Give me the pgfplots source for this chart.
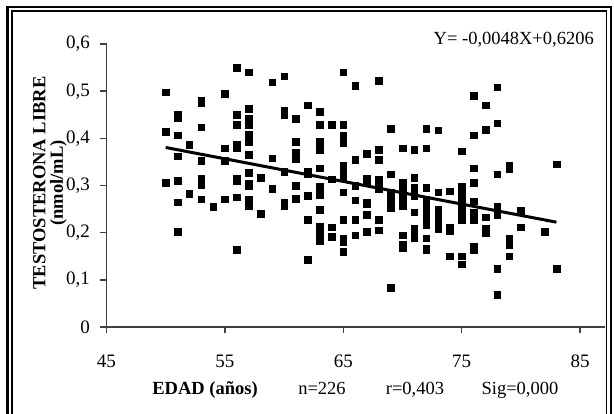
\documentclass[border=0pt]{standalone}
\usepackage{fontspec}
\setmainfont{Liberation Serif}
\usepackage{pgfplots}
\pgfplotsset{compat=1.18}

\begin{document}
\begin{tikzpicture}[x=1pt,y=1pt]
\useasboundingbox (0,0) rectangle (614,414);
\fill[white] (0,0) rectangle (614,414);
% double frame, open at the bottom
\draw[line width=2.5pt] (7.5,-5) -- (7.5,407) -- (611,407) -- (611,-5);
\draw[line width=1.3pt] (12,-5) -- (12,403) -- (606.5,403) -- (606.5,-5);

\begin{axis}[
    at={(106.5pt,87pt)}, anchor=south west,
    width=498.5pt, height=283pt, scale only axis,
    xmin=45, xmax=87.1, ymin=0, ymax=0.6,
    axis x line=bottom, axis y line=left,
    axis line style={-, black!75, line width=1.6pt},
    xtick={45,55,65,75,85},
    ytick={0,0.1,0.2,0.3,0.4,0.5,0.6},
    tick align=outside, major tick length=6pt,
    tick style={black!75, line width=1.4pt},
    /pgf/number format/assume math mode=true,
    ticklabel style={font=\fontsize{19}{20}\selectfont},
    yticklabel style={xshift=-7pt, /pgf/number format/.cd, use comma, fixed, precision=1},
    xticklabel style={anchor=base, yshift=-35pt},
    clip=false,
]
\addplot[only marks, mark=square*, mark size=3.3pt, black] table {
x y
50 0.498
50 0.414
50 0.306
51 0.450
51 0.444
51 0.407
51 0.362
51 0.310
51 0.265
51 0.202
52 0.386
52 0.282
53 0.481
53 0.476
53 0.424
53 0.352
53 0.315
53 0.309
53 0.302
53 0.271
54 0.255
55 0.494
55 0.379
55 0.352
55 0.271
56 0.550
56 0.450
56 0.429
56 0.386
56 0.379
56 0.315
56 0.309
56 0.275
56 0.164
57 0.540
57 0.463
57 0.443
57 0.435
57 0.428
57 0.408
57 0.401
57 0.393
57 0.365
57 0.327
57 0.305
57 0.300
57 0.271
57 0.264
57 0.257
58 0.317
58 0.240
59 0.519
59 0.358
59 0.293
60 0.532
60 0.459
60 0.455
60 0.450
60 0.329
60 0.265
60 0.261
60 0.256
61 0.442
61 0.393
61 0.371
61 0.364
61 0.357
61 0.300
61 0.272
62 0.470
62 0.329
62 0.324
62 0.278
62 0.227
62 0.143
63 0.457
63 0.429
63 0.393
63 0.376
63 0.337
63 0.298
63 0.291
63 0.281
63 0.249
63 0.214
63 0.205
63 0.197
63 0.188
63 0.183
64 0.429
64 0.313
64 0.212
64 0.191
65 0.540
65 0.429
65 0.405
65 0.398
65 0.391
65 0.342
65 0.335
65 0.326
65 0.319
65 0.286
65 0.227
65 0.187
65 0.180
65 0.160
66 0.512
66 0.355
66 0.300
66 0.269
66 0.227
66 0.195
67 0.368
67 0.315
67 0.305
67 0.265
67 0.260
67 0.238
67 0.202
68 0.522
68 0.376
68 0.355
68 0.312
68 0.300
68 0.293
68 0.227
68 0.205
69 0.421
69 0.324
69 0.286
69 0.271
69 0.260
69 0.253
69 0.083
70 0.379
70 0.306
70 0.300
70 0.291
70 0.284
70 0.274
70 0.264
70 0.256
70 0.195
70 0.174
70 0.167
71 0.376
71 0.317
71 0.295
71 0.283
71 0.278
71 0.243
71 0.209
71 0.196
71 0.188
72 0.421
72 0.379
72 0.295
72 0.271
72 0.260
72 0.250
72 0.240
72 0.231
72 0.217
72 0.188
72 0.167
72 0.164
73 0.417
73 0.286
73 0.250
73 0.236
73 0.226
73 0.217
73 0.207
74 0.288
74 0.212
74 0.203
74 0.150
75 0.373
75 0.298
75 0.291
75 0.274
75 0.260
75 0.253
75 0.247
75 0.236
75 0.228
75 0.150
75 0.133
76 0.491
76 0.407
76 0.337
76 0.306
76 0.267
76 0.243
76 0.236
76 0.228
76 0.171
76 0.164
77 0.470
77 0.418
77 0.233
77 0.209
77 0.200
78 0.508
78 0.432
78 0.324
78 0.256
78 0.247
78 0.238
78 0.123
78 0.069
79 0.342
79 0.335
79 0.187
79 0.180
79 0.174
79 0.150
80 0.247
80 0.212
82 0.202
83 0.345
83 0.123
};
% regression line Y = -0.0048X + 0.6206
\addplot[black, line width=3pt] coordinates {(50,0.3806) (83,0.2222)};
\end{axis}

\begin{scope}[every node/.style={font=\fontsize{18.5}{20}\selectfont, inner sep=0pt}]
\node[anchor=base east] at (594,369) {Y= -0,0048X+0,6206};
\node[anchor=base, font=\fontsize{18.5}{20}\selectfont\bfseries] at (205,19) {EDAD (años)};
\node[anchor=base] at (322,19) {n=226};
\node[anchor=base] at (415,19) {r=0,403};
\node[anchor=base] at (520,19) {Sig=0,000};
\node[rotate=90, align=center, font=\fontsize{18.5}{17.5}\selectfont\bfseries] at (50,231) {TESTOSTERONA LIBRE\\(nmol/mL)};
\end{scope}
\end{tikzpicture}
\end{document}
